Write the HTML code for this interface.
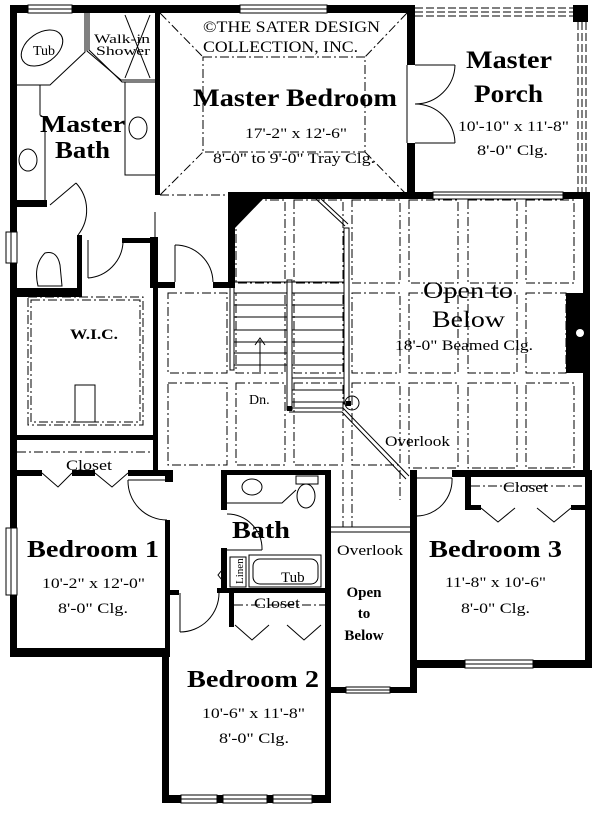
<!DOCTYPE html>
<html><head><meta charset="utf-8"><style>
html,body{margin:0;padding:0;background:#fff;width:600px;height:814px;overflow:hidden}
svg{display:block}
text{font-family:"Liberation Serif",serif;fill:#000}
.b{font-weight:bold}
.dd{fill:none;stroke:#000;stroke-width:1;stroke-dasharray:9 3 2 3}
.t{fill:none;stroke:#000;stroke-width:1}
.w{fill:#fff;stroke:#000;stroke-width:1}
</style></head><body>
<svg width="600" height="814" viewBox="0 0 600 814" xmlns="http://www.w3.org/2000/svg">
<!-- grid (beamed ceiling) -->
<g class="dd">
<rect x="236" y="200" width="49" height="83"/><rect x="294" y="200" width="49" height="83"/><rect x="352" y="200" width="48" height="83"/><rect x="409" y="200" width="49" height="83"/><rect x="468" y="200" width="49" height="83"/><rect x="526" y="200" width="48" height="83"/>
<rect x="168" y="293" width="59" height="80"/><rect x="236" y="293" width="49" height="80"/><rect x="294" y="293" width="49" height="80"/><rect x="352" y="293" width="48" height="80"/><rect x="409" y="293" width="49" height="80"/><rect x="468" y="293" width="49" height="80"/><rect x="526" y="293" width="40" height="80"/>
<rect x="168" y="383" width="59" height="82"/><rect x="236" y="383" width="49" height="82"/><rect x="294" y="383" width="49" height="82"/><rect x="352" y="383" width="48" height="82"/><rect x="409" y="383" width="49" height="85"/><rect x="468" y="383" width="49" height="85"/><rect x="526" y="383" width="48" height="85"/>
<line x1="343" y1="470" x2="343" y2="527"/><line x1="352" y1="470" x2="352" y2="527"/><line x1="400" y1="470" x2="400" y2="500"/>
<!-- master bedroom tray -->
<rect x="203" y="57" width="162" height="95"/>
<line x1="160" y1="13" x2="203" y2="57"/><line x1="160" y1="195" x2="203" y2="152"/><line x1="407" y1="13" x2="365" y2="57"/><line x1="407" y1="195" x2="365" y2="152"/>
<line x1="160" y1="195" x2="228" y2="195"/>
<!-- WIC shelves -->
<rect x="28" y="297" width="115" height="128"/><rect x="31" y="300" width="109" height="122"/>
<line x1="17" y1="452" x2="153" y2="452"/>
<line x1="234" y1="605" x2="325" y2="605"/>
<line x1="471" y1="486" x2="585" y2="486"/>
</g>
<!-- walls -->
<g fill="#000">
<rect x="10" y="5" width="405" height="8"/>
<rect x="10" y="5" width="7" height="652"/>
<rect x="155" y="13" width="5" height="182"/>
<rect x="407" y="5" width="8" height="60"/><rect x="407" y="143" width="8" height="52"/>
<rect x="573" y="5" width="15" height="17"/>
<rect x="228" y="192" width="362" height="7"/>
<rect x="583" y="192" width="7" height="283"/>
<rect x="566" y="293" width="17" height="80"/>
<polygon points="228,199 263,199 235,228 235,287 228,287"/>
<rect x="213" y="282" width="22" height="6"/><rect x="150" y="282" width="25" height="6"/>
<rect x="150" y="237" width="8" height="51"/>
<rect x="153" y="238" width="5" height="235"/>
<rect x="122" y="238" width="35" height="5"/>
<rect x="17" y="288" width="65" height="9"/><rect x="77" y="235" width="5" height="62"/>
<rect x="17" y="200" width="30" height="7"/>
<rect x="17" y="435" width="141" height="5"/>
<rect x="17" y="470" width="25" height="6"/><rect x="72" y="470" width="23" height="6"/><rect x="128" y="470" width="45" height="6"/>
<rect x="165" y="470" width="8" height="12"/>
<rect x="165" y="520" width="5" height="137"/><rect x="10" y="648" width="160" height="9"/>
<rect x="170" y="590" width="9" height="5"/>
<rect x="162" y="650" width="7" height="153"/><rect x="162" y="795" width="169" height="8"/>
<rect x="325" y="470" width="6" height="333"/>
<rect x="221" y="470" width="110" height="5"/><rect x="221" y="470" width="6" height="40"/>
<rect x="221" y="548" width="6" height="45"/>
<rect x="217" y="588" width="114" height="5"/>
<rect x="229" y="593" width="5" height="34"/>
<rect x="331" y="687" width="86" height="6"/>
<rect x="410" y="470" width="7" height="223"/>
<rect x="410" y="470" width="7" height="8"/><rect x="452" y="470" width="140" height="7"/>
<rect x="465" y="477" width="6" height="33"/><rect x="465" y="505" width="16" height="5"/><rect x="571" y="505" width="14" height="5"/>
<rect x="585" y="470" width="7" height="198"/><rect x="410" y="660" width="182" height="8"/>
</g>
<circle cx="580" cy="333" r="4" fill="#fff"/>
<!-- windows -->
<g class="w">
<rect x="28" y="5" width="44" height="8"/><rect x="240" y="5" width="87" height="8"/>
<rect x="433" y="192" width="130" height="7"/>
<rect x="6" y="232" width="11" height="31"/><rect x="6" y="528" width="11" height="67"/>
<rect x="181" y="795" width="36" height="8"/><rect x="223" y="795" width="44" height="8"/><rect x="273" y="795" width="39" height="8"/>
<rect x="346" y="687" width="44" height="6"/><rect x="465" y="660" width="68" height="8"/>
</g>
<g class="t">
<line x1="28" y1="9" x2="72" y2="9"/><line x1="240" y1="9" x2="327" y2="9"/><line x1="433" y1="195" x2="563" y2="195"/>
<line x1="11" y1="232" x2="11" y2="263"/><line x1="11" y1="528" x2="11" y2="595"/>
<line x1="181" y1="799" x2="312" y2="799"/><line x1="346" y1="690" x2="390" y2="690"/><line x1="465" y1="664" x2="533" y2="664"/>
<!-- porch dashed -->
<g stroke-dasharray="8 3"><line x1="415" y1="8" x2="573" y2="8"/><line x1="415" y1="12" x2="573" y2="12"/><line x1="415" y1="16" x2="573" y2="16"/>
<line x1="578" y1="22" x2="578" y2="192"/><line x1="582" y1="22" x2="582" y2="192"/><line x1="586" y1="22" x2="586" y2="192"/></g>
<!-- porch doors -->
<line x1="407" y1="65" x2="407" y2="143"/><line x1="415" y1="65" x2="455" y2="65"/><line x1="415" y1="143" x2="455" y2="143"/>
<path d="M455,65 A40,40 0 0 1 415,104 M455,143 A40,40 0 0 0 415,104"/>
<!-- master bath fixtures -->
<ellipse cx="42" cy="48" rx="23" ry="15" transform="rotate(-35 42 48)"/>
<polyline points="17,85 50,85 85,52 85,13"/><polyline points="89,13 89,50 122,82 155,82"/><polyline points="87,13 87,51 121,80 155,80"/>
<line x1="125" y1="15" x2="150" y2="78"/><line x1="125" y1="78" x2="150" y2="15"/>
<polyline points="40,85 40,115 45,118 45,200"/>
<ellipse cx="28" cy="160" rx="9" ry="11"/>
<polyline points="125,82 125,175 155,175"/><ellipse cx="138" cy="128" rx="9" ry="11"/>
<line x1="50" y1="205" x2="76" y2="183"/><path d="M76,183 A40,40 0 0 1 78,235"/>
<!-- toilet room -->
<path d="M38,286 Q33,265 45,253 Q57,250 60,265 L62,286 Z"/>
<line x1="88" y1="240" x2="88" y2="278"/><path d="M88,278 A38,38 0 0 0 123,243"/>
<rect x="75" y="385" width="20" height="37"/>
<!-- door to stair hall -->
<line x1="175" y1="245" x2="175" y2="282"/><path d="M175,245 A38,38 0 0 1 213,282"/>
<line x1="155" y1="212" x2="155" y2="238"/>
<!-- closets V doors -->
<polyline points="42,473 58,487 72,473"/><polyline points="95,473 112,487 128,473"/>
<polyline points="235,625 252,640 269,625"/><polyline points="287,625 304,640 321,625"/>
<polyline points="481,508 498,522 515,508"/><polyline points="537,508 554,522 571,508"/>
<!-- bedroom doors -->
<line x1="128" y1="480" x2="165" y2="480"/><path d="M128,480 A39,39 0 0 0 167,520"/>
<line x1="180" y1="593" x2="180" y2="632"/><path d="M180,632 A39,39 0 0 0 219,593"/>
<line x1="417" y1="478" x2="452" y2="478"/><path d="M452,478 A36,36 0 0 1 417,516"/>
<!-- bath fixtures -->
<ellipse cx="252" cy="487" rx="10" ry="8"/><polyline points="227,503 282,503 296,490"/>
<rect x="296" y="476" width="22" height="8"/><ellipse cx="306" cy="496" rx="9" ry="12"/>
<line x1="227" y1="550" x2="262" y2="550"/><path d="M262,550 A35,35 0 0 0 227,514"/>
<rect x="230" y="557" width="16" height="30"/>
<rect x="249" y="555" width="72" height="32"/><rect x="253" y="559" width="65" height="25" rx="7"/>
<polyline points="226,565 218,575 226,585"/>
<!-- overlook corridor top -->
<line x1="331" y1="527" x2="410" y2="527"/><line x1="331" y1="532" x2="410" y2="532"/>
<!-- stairs -->
<rect x="230" y="287" width="4" height="83"/>
<rect x="287" y="280" width="5" height="130"/>
<rect x="344" y="228" width="5" height="176"/>
<polyline points="316,199 345,226"/><polyline points="319,197 348,224"/>
<line x1="234" y1="293" x2="287" y2="293"/><line x1="234" y1="305" x2="287" y2="305"/><line x1="234" y1="317" x2="287" y2="317"/><line x1="234" y1="330" x2="287" y2="330"/><line x1="234" y1="342" x2="287" y2="342"/><line x1="234" y1="353" x2="287" y2="353"/><line x1="234" y1="365" x2="287" y2="365"/>
<line x1="233" y1="282" x2="344" y2="282"/>
<line x1="292" y1="293" x2="344" y2="293"/><line x1="292" y1="305" x2="344" y2="305"/><line x1="292" y1="317" x2="344" y2="317"/><line x1="292" y1="330" x2="344" y2="330"/><line x1="292" y1="342" x2="344" y2="342"/><line x1="292" y1="353" x2="344" y2="353"/><line x1="292" y1="365" x2="344" y2="365"/><line x1="292" y1="378" x2="344" y2="378"/><line x1="292" y1="390" x2="344" y2="390"/><line x1="292" y1="402" x2="344" y2="402"/>
<polyline points="289,408 343,408 409,476"/><polyline points="289,412 342,412 406,479"/>
<circle cx="352" cy="403" r="7"/>
<line x1="260" y1="340" x2="260" y2="372"/><polyline points="255,345 260,338 265,345"/>
</g>
<rect x="287" y="406" width="5" height="5"/><rect x="346" y="401" width="5" height="5"/>
<!-- text -->
<text x="203" y="32" font-size="16" textLength="177" lengthAdjust="spacingAndGlyphs">©THE SATER DESIGN</text>
<text x="203" y="52" font-size="16" textLength="155" lengthAdjust="spacingAndGlyphs">COLLECTION, INC.</text>
<text class="b" x="193" y="106" font-size="25" textLength="204" lengthAdjust="spacingAndGlyphs">Master Bedroom</text>
<text x="245" y="138" font-size="15" textLength="102" lengthAdjust="spacingAndGlyphs">17'-2" x 12'-6"</text>
<text x="213" y="163" font-size="15" textLength="162" lengthAdjust="spacingAndGlyphs">8'-0" to 9'-0" Tray Clg.</text>
<text class="b" x="466" y="68" font-size="25" textLength="86" lengthAdjust="spacingAndGlyphs">Master</text>
<text class="b" x="474" y="102" font-size="25" textLength="69" lengthAdjust="spacingAndGlyphs">Porch</text>
<text x="458" y="131" font-size="15" textLength="111" lengthAdjust="spacingAndGlyphs">10'-10" x 11'-8"</text>
<text x="477" y="155" font-size="15" textLength="71" lengthAdjust="spacingAndGlyphs">8'-0" Clg.</text>
<text class="b" x="40" y="132" font-size="24" textLength="85" lengthAdjust="spacingAndGlyphs">Master</text>
<text class="b" x="55" y="158" font-size="24" textLength="55" lengthAdjust="spacingAndGlyphs">Bath</text>
<text x="33" y="55" font-size="14">Tub</text>
<text x="94" y="43" font-size="13" textLength="56" lengthAdjust="spacingAndGlyphs">Walk-in</text>
<text x="96" y="55" font-size="13" textLength="54" lengthAdjust="spacingAndGlyphs">Shower</text>
<text class="b" x="70" y="339" font-size="15" textLength="48" lengthAdjust="spacingAndGlyphs">W.I.C.</text>
<text x="423" y="298" font-size="23" textLength="90" lengthAdjust="spacingAndGlyphs">Open to</text>
<text x="432" y="327" font-size="23" textLength="73" lengthAdjust="spacingAndGlyphs">Below</text>
<text x="395" y="350" font-size="15" textLength="138" lengthAdjust="spacingAndGlyphs">18'-0" Beamed Clg.</text>
<text x="249" y="404" font-size="14">Dn.</text>
<text x="385" y="446" font-size="15" textLength="65" lengthAdjust="spacingAndGlyphs">Overlook</text>
<text x="66" y="470" font-size="15" textLength="46" lengthAdjust="spacingAndGlyphs">Closet</text>
<text class="b" x="27" y="557" font-size="24" textLength="132" lengthAdjust="spacingAndGlyphs">Bedroom 1</text>
<text x="42" y="588" font-size="15" textLength="103" lengthAdjust="spacingAndGlyphs">10'-2" x 12'-0"</text>
<text x="58" y="613" font-size="15" textLength="70" lengthAdjust="spacingAndGlyphs">8'-0" Clg.</text>
<text class="b" x="232" y="538" font-size="24" textLength="58" lengthAdjust="spacingAndGlyphs">Bath</text>
<text x="243" y="584" font-size="11" transform="rotate(-90 243 584)">Linen</text>
<text x="281" y="582" font-size="15">Tub</text>
<text x="254" y="608" font-size="15" textLength="46" lengthAdjust="spacingAndGlyphs">Closet</text>
<text x="337" y="555" font-size="15" textLength="66" lengthAdjust="spacingAndGlyphs">Overlook</text>
<text class="b" x="364" y="597" font-size="15" text-anchor="middle">Open</text>
<text class="b" x="364" y="618" font-size="15" text-anchor="middle">to</text>
<text class="b" x="364" y="640" font-size="15" text-anchor="middle">Below</text>
<text class="b" x="429" y="557" font-size="24" textLength="133" lengthAdjust="spacingAndGlyphs">Bedroom 3</text>
<text x="445" y="587" font-size="15" textLength="101" lengthAdjust="spacingAndGlyphs">11'-8" x 10'-6"</text>
<text x="461" y="613" font-size="15" textLength="69" lengthAdjust="spacingAndGlyphs">8'-0" Clg.</text>
<text x="503" y="492" font-size="15" textLength="45" lengthAdjust="spacingAndGlyphs">Closet</text>
<text class="b" x="187" y="687" font-size="24" textLength="132" lengthAdjust="spacingAndGlyphs">Bedroom 2</text>
<text x="202" y="718" font-size="15" textLength="103" lengthAdjust="spacingAndGlyphs">10'-6" x 11'-8"</text>
<text x="219" y="743" font-size="15" textLength="70" lengthAdjust="spacingAndGlyphs">8'-0" Clg.</text>
</svg>
</body></html>
